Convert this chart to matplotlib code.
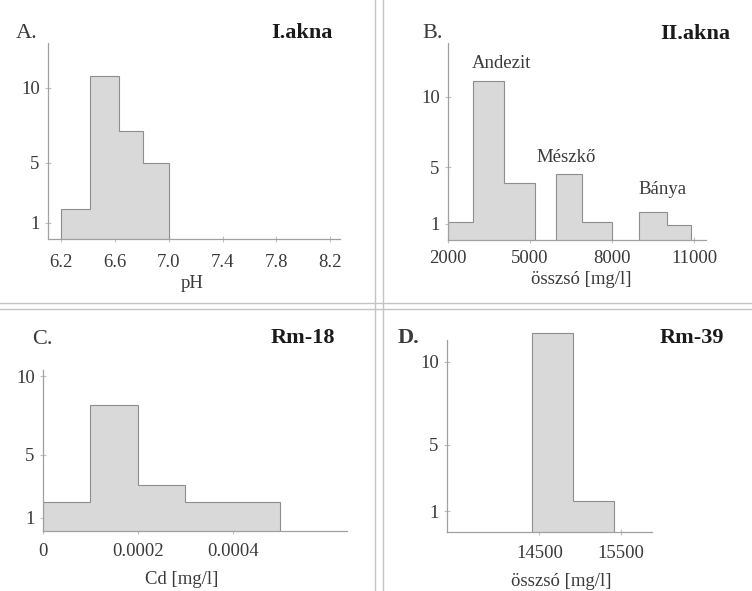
import matplotlib.pyplot as plt
from matplotlib.lines import Line2D

plt.rcParams['font.family'] = ['Liberation Serif', 'DejaVu Serif']

W, H = 752, 591

# A. I.akna - pH
ph_edges = [6.2, 6.41, 6.63, 6.81, 7.0]
ph_counts = [1.9, 10.8, 7.1, 5.0]
ph_ticks = [6.2, 6.6, 7.0, 7.4, 7.8, 8.2]

# B. II.akna - összsó, three groups
b_groups = ["Andezit", "Mészkő", "Bánya"]
b_edges = [[2000, 2900, 4050, 5200], [5950, 6900, 8000], [9000, 10000, 10900]]
b_counts = [[1.1, 11.1, 3.9], [4.5, 1.1], [1.85, 0.9]]
b_ticks = [2000, 5000, 8000, 11000]

# C. Rm-18 - Cd
cd_edges = [0, 0.0001, 0.0002, 0.0003, 0.0005]
cd_counts = [2.0, 8.2, 3.1, 2.0]
cd_ticks = [0, 0.0002, 0.0004]
cd_labels = ["0", "0.0002", "0.0004"]

# D. Rm-39 - összsó
d_edges = [14410, 14915, 15415]
d_counts = [11.7, 1.64]
d_ticks = [14500, 15500]

y_ticks = [1, 5, 10]

BAR = '#d9d9d9'
EDGE = '#8e8e8e'
AXC = '#a0a0a0'
TXT = '#3a3a3a'
LBL = 13.5
TITLE = 16


def px_axes(fig, left, top, right, bottom):
    return fig.add_axes([left / W, 1 - bottom / H, (right - left) / W, (bottom - top) / H])


def style(ax, xpad):
    for s in ['top', 'right']:
        ax.spines[s].set_visible(False)
    for s in ['left', 'bottom']:
        ax.spines[s].set_color(AXC)
        ax.spines[s].set_linewidth(0.9)
        ax.spines[s].set_zorder(3)
    ax.tick_params(colors='#c0c0c0', labelcolor=TXT, labelsize=LBL,
                   direction='inout', length=4, width=0.8, pad=4)
    ax.tick_params(axis='x', pad=xpad)
    ax.set_yticks(y_ticks)
    ax.set_facecolor('none')


def hist(ax, edges, counts, floor, clip=True):
    # histogram drawn as a filled step outline sitting on the x axis
    ax.stairs(counts, edges, baseline=floor, fill=True, facecolor=BAR,
              edgecolor=EDGE, linewidth=0.8, clip_on=clip, zorder=2)


fig = plt.figure(figsize=(W / 100, H / 100), dpi=100)

# separators
for x in (375, 383):
    fig.add_artist(Line2D([x / W, x / W], [0, 1], color='#c4c4c4', lw=1.0))
for y in (303, 309):
    fig.add_artist(Line2D([0, 1], [1 - y / H, 1 - y / H], color='#c4c4c4', lw=1.0))

# A
axA = px_axes(fig, 48, 43, 340, 239)
axA.set_ylim(-0.07, 13.0)
hist(axA, ph_edges, ph_counts, -0.07)
axA.set_xlim(6.1, 8.275)
axA.set_xticks(ph_ticks)
axA.set_xticklabels([f"{t:.1f}" for t in ph_ticks])
style(axA, 8.5)

# B
axB = px_axes(fig, 448, 43, 706, 240)
axB.set_ylim(-0.15, 13.8)
for e, c in zip(b_edges, b_counts):
    hist(axB, e, c, -0.15)
axB.set_xlim(2000, 11440)
axB.set_xticks(b_ticks)
axB.set_xticklabels([str(t) for t in b_ticks])
style(axB, 5.5)

# C
axC = px_axes(fig, 43, 370, 347, 531)
axC.set_ylim(0.15, 10.4)
hist(axC, cd_edges, cd_counts, 0.15)
axC.set_xlim(0, 0.000641)
axC.set_xticks(cd_ticks)
axC.set_xticklabels(cd_labels)
style(axC, 7)

# D
axD = px_axes(fig, 447, 340, 652, 532)
axD.set_ylim(-0.24, 11.3)
hist(axD, d_edges, d_counts, -0.24, clip=False)
axD.set_xlim(13367, 15880)
axD.set_xticks(d_ticks)
axD.set_xticklabels([str(t) for t in d_ticks])
style(axD, 7)


def ftext(x, y, s, **kw):
    fig.text(x / W, 1 - y / H, s, va='center', **kw)


# panel letters and titles
ftext(16, 33, "A.", fontsize=TITLE, color=TXT)
ftext(333, 33, "I.akna", fontsize=TITLE, fontweight='bold', ha='right', color='#1a1a1a')
ftext(422, 33, "B.", fontsize=TITLE, color=TXT)
ftext(730, 34, "II.akna", fontsize=TITLE, fontweight='bold', ha='right', color='#1a1a1a')
ftext(32, 340, "C.", fontsize=TITLE, color=TXT)
ftext(335, 338, "Rm-18", fontsize=TITLE, fontweight='bold', ha='right', color='#1a1a1a')
ftext(398, 338, "D.", fontsize=TITLE, fontweight='bold', color=TXT)
ftext(724, 338, "Rm-39", fontsize=TITLE, fontweight='bold', ha='right', color='#1a1a1a')

# axis labels
ftext(192, 284, "pH", fontsize=LBL, ha='center', color=TXT)
ftext(581, 280, "összsó [mg/l]", fontsize=LBL, ha='center', color=TXT)
ftext(182, 580, "Cd [mg/l]", fontsize=LBL, ha='center', color=TXT)
ftext(561, 582, "összsó [mg/l]", fontsize=LBL, ha='center', color=TXT)

# group labels in B
for name, (gx, gy) in zip(b_groups, [(501, 63), (566, 157), (663, 190)]):
    ftext(gx, gy, name, fontsize=LBL, ha='center', color=TXT)

fig.savefig("out.png", dpi=100)
